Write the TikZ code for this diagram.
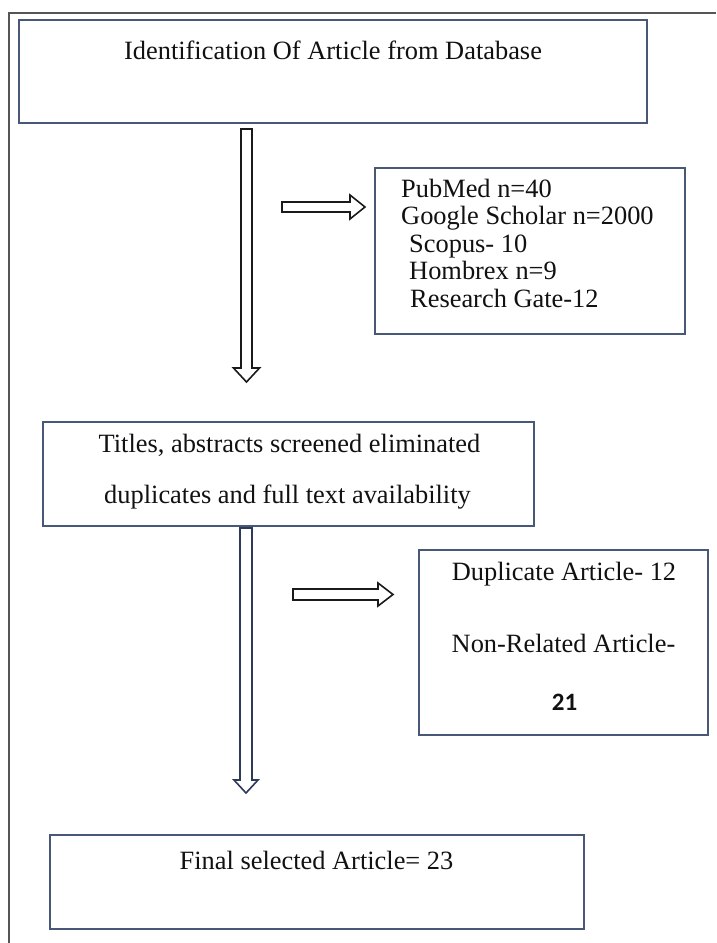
\documentclass[tikz,border=0pt]{standalone}
\usepackage{fontspec}
\setmainfont{Liberation Serif}
\newfontfamily\calibfont{Carlito}
\usetikzlibrary{calc}
\definecolor{boxblue}{HTML}{4A5878}
\definecolor{framegray}{HTML}{555555}
\definecolor{arrownavy}{HTML}{2E3A5A}
\definecolor{arrowblack}{HTML}{1A1A1A}
\definecolor{txtcol}{HTML}{111111}
\newcommand{\downblockarrow}[6]{%
  \draw[blockarrow=#6] ($(#1)+(-#3,0)$) -- ($(#2)+(-#3,-#5)$) -- ($(#2)+(-#4,-#5)$) -- (#2)
    -- ($(#2)+(#4,-#5)$) -- ($(#2)+(#3,-#5)$) -- ($(#1)+(#3,0)$) -- cycle;}
\newcommand{\rightblockarrow}[6]{%
  \draw[blockarrow=#6] ($(#1)+(0,-#3)$) -- ($(#2)+(-#5,-#3)$) -- ($(#2)+(-#5,-#4)$) -- (#2)
    -- ($(#2)+(-#5,#4)$) -- ($(#2)+(-#5,#3)$) -- ($(#1)+(0,#3)$) -- cycle;}
\begin{document}
\begin{tikzpicture}[x=1pt,y=-1pt,
  box/.style={draw=boxblue, line width=2.4pt, fill=white, inner sep=0pt, outer sep=0pt},
  txt/.style={font=\fontsize{26.4}{28}\selectfont, text=txtcol, inner sep=0pt, anchor=base},
  txtw/.style={txt, anchor=base west},
  blockarrow/.style={draw=#1, line width=1.6pt, fill=white, line join=miter}]
\useasboundingbox (0,0) rectangle (716,943);
\fill[white] (0,0) rectangle (716,943);
% outer frame
\draw[framegray, line width=1.8pt] (9,943) -- (9,13) -- (716,13);
% boxes
\node[box, minimum width=628pt, minimum height=103pt] (b1) at (333,71.5) {};
\node[box, minimum width=310pt, minimum height=166pt] (b2) at (530,251) {};
\node[box, minimum width=491pt, minimum height=104pt] (b3) at (288.5,474) {};
\node[box, minimum width=289pt, minimum height=185pt] (b4) at (563.5,642.5) {};
\node[box, minimum width=534pt, minimum height=94pt] (b5) at (317,882) {};
% texts
\node[txt] (t1) at (333,59) {Identification Of Article from Database};
\node[txtw] (t2a) at (401,197) {PubMed n=40};
\node[txtw] (t2b) at (401,224) {Google Scholar n=2000};
\node[txtw] (t2c) at (409,252) {Scopus- 10};
\node[txtw] (t2d) at (409,279) {Hombrex n=9};
\node[txtw] (t2e) at (410,307) {Research Gate-12};
\node[txt] (t3a) at (289.5,452) {Titles, abstracts screened eliminated};
\node[txt] (t3b) at (287.5,503) {duplicates and full text availability};
\node[txt] (t4a) at (564,580) {Duplicate Article- 12};
\node[txt] (t4b) at (563.5,652) {Non-Related Article-};
\node[txt, font=\calibfont\bfseries\fontsize{25}{26}\selectfont] (t4c) at (564.5,710) {21};
\node[txt] (t5) at (316.5,869) {Final selected Article= 23};
% arrows
\coordinate (a1s) at (246.5,129);
\coordinate (a1e) at (246.5,382);
\downblockarrow{a1s}{a1e}{5.5}{13}{14}{arrowblack}
\coordinate (a2s) at (282,207);
\coordinate (a2e) at (365,207);
\rightblockarrow{a2s}{a2e}{5}{12}{15}{arrowblack}
\coordinate (a3s) at (246,528);
\coordinate (a3e) at (246,793);
\downblockarrow{a3s}{a3e}{6}{12}{13}{arrownavy}
\coordinate (a4s) at (293,594.5);
\coordinate (a4e) at (393,594.5);
\rightblockarrow{a4s}{a4e}{5.5}{11.5}{15}{arrowblack}
\end{tikzpicture}
\end{document}
